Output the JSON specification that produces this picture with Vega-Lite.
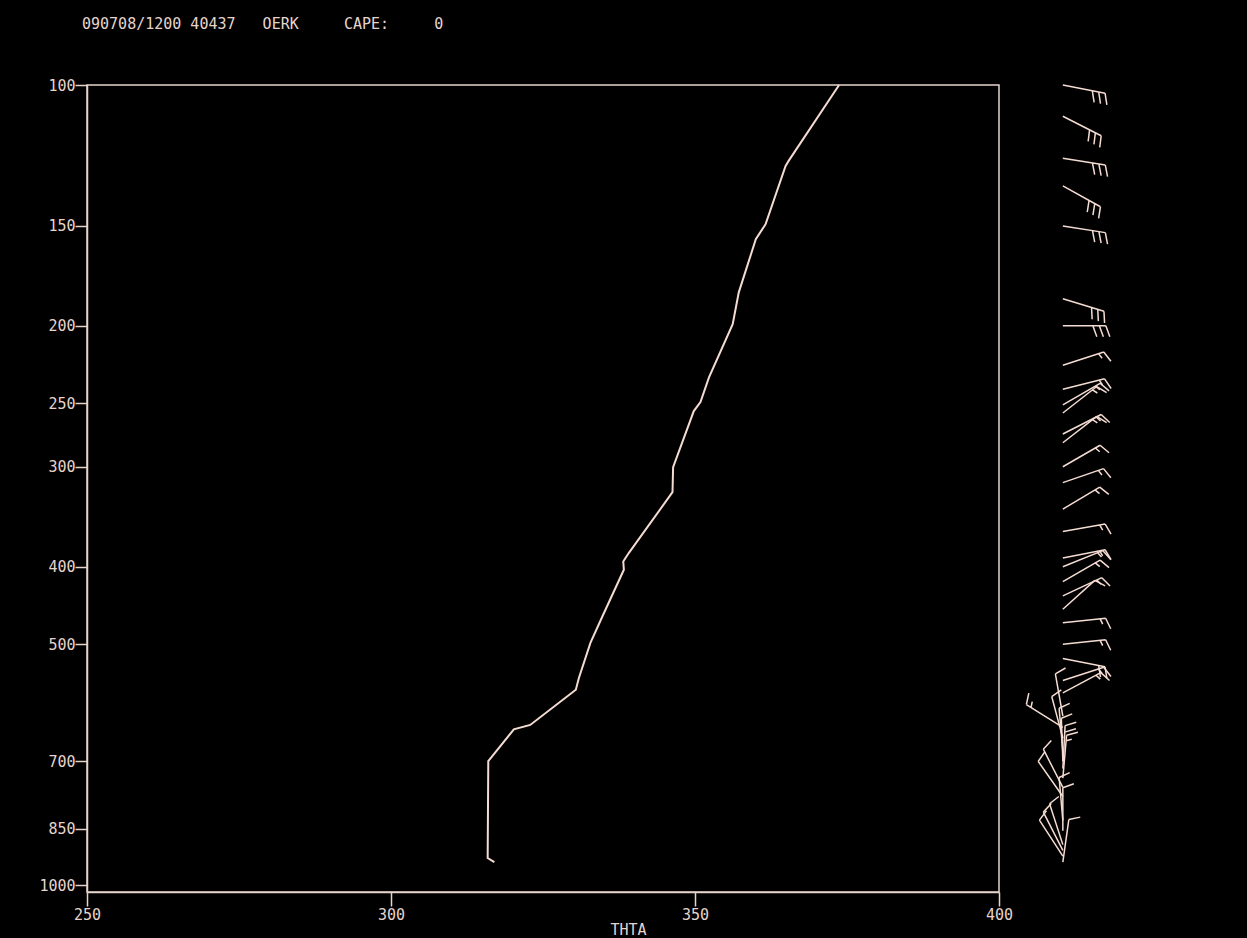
{
  "$schema": "https://vega.github.io/schema/vega-lite/v6.json",
  "autosize": "none",
  "width": 912,
  "height": 807,
  "padding": {"left": 87, "top": 85, "right": 248, "bottom": 46},
  "background": "#000000",
  "config": {
    "view": {"stroke": "#e6d4cc", "strokeWidth": 1.5, "fill": "#000000"},
    "axis": {
      "domainColor": "#e6d4cc", "domainWidth": 1.5,
      "tickColor": "#e6d4cc", "tickWidth": 1.5,
      "labelColor": "#e6d4cc", "labelFont": "DejaVu Sans Mono", "labelFontSize": 15,
      "titleColor": "#e6d4cc", "titleFont": "DejaVu Sans Mono", "titleFontSize": 15, "titleFontWeight": "normal",
      "grid": false, "labelFlush": false, "labelOverlap": false, "labelBound": false
    }
  },
  "title": {
    "text": "090708/1200 40437\u00a0\u00a0\u00a0OERK\u00a0\u00a0\u00a0\u00a0\u00a0CAPE:\u00a0\u00a0\u00a0\u00a0\u00a00",
    "anchor": "start", "frame": "group", "dx": -5, "offset": 34, "baseline": "alphabetic",
    "font": "DejaVu Sans Mono", "fontSize": 15, "fontWeight": "normal", "color": "#e6d4cc"
  },
  "layer": [
    {
      "data": {"values": [
        {"p": 100, "th": 373.7}, {"p": 124.4, "th": 365.4}, {"p": 126.2, "th": 364.9},
        {"p": 149.3, "th": 361.6}, {"p": 155.9, "th": 360.0}, {"p": 181.6, "th": 357.2},
        {"p": 199, "th": 356.2}, {"p": 232, "th": 352.3}, {"p": 249, "th": 350.9},
        {"p": 255.6, "th": 349.8}, {"p": 300.4, "th": 346.4}, {"p": 322.8, "th": 346.3},
        {"p": 384.6, "th": 339.1}, {"p": 394, "th": 338.2}, {"p": 403.5, "th": 338.3},
        {"p": 461, "th": 334.8}, {"p": 498, "th": 332.8}, {"p": 551, "th": 330.9},
        {"p": 570, "th": 330.4}, {"p": 630.7, "th": 322.9}, {"p": 638.6, "th": 320.2},
        {"p": 700, "th": 316.0}, {"p": 925, "th": 315.9}, {"p": 936, "th": 317.0}
      ]},
      "mark": {"type": "line", "color": "#f5dcd2", "strokeWidth": 2, "clip": false},
      "encoding": {
        "x": {"field": "th", "type": "quantitative",
          "scale": {"domain": [250, 400], "nice": false, "zero": false},
          "axis": {"values": [250, 300, 350, 400], "tickSize": 14, "labelPadding": 1, "format": "d",
            "title": "THTA", "titleX": 541, "titleY": 42, "titleAlign": "center", "titleBaseline": "alphabetic"}},
        "y": {"field": "p", "type": "quantitative",
          "scale": {"type": "log", "domain": [100, 1020], "reverse": true, "nice": false},
          "axis": {"values": [100, 150, 200, 250, 300, 400, 500, 700, 850, 1000], "format": "d", "tickSize": 12, "labelPadding": 0, "title": null}},
        "order": {"field": "p", "type": "quantitative"}
      }
    },
    {
      "data": {"values": [
        {"p": 100, "dir": 101, "spd": 30}, {"p": 109.4, "dir": 117, "spd": 30},
        {"p": 123.5, "dir": 99, "spd": 30}, {"p": 133.7, "dir": 119, "spd": 30},
        {"p": 150, "dir": 99, "spd": 30}, {"p": 185, "dir": 107, "spd": 30},
        {"p": 200, "dir": 90, "spd": 30},
        {"p": 224, "dir": 72, "spd": 15}, {"p": 240, "dir": 76, "spd": 15},
        {"p": 251, "dir": 60, "spd": 15}, {"p": 257, "dir": 52, "spd": 15},
        {"p": 273, "dir": 63, "spd": 15}, {"p": 280, "dir": 52, "spd": 15},
        {"p": 300, "dir": 60, "spd": 15}, {"p": 314, "dir": 71, "spd": 15},
        {"p": 339, "dir": 59, "spd": 15}, {"p": 361.5, "dir": 80, "spd": 15},
        {"p": 390, "dir": 79, "spd": 15}, {"p": 400, "dir": 68, "spd": 15},
        {"p": 417.5, "dir": 60, "spd": 15}, {"p": 435, "dir": 65, "spd": 15},
        {"p": 452, "dir": 48, "spd": 10}, {"p": 470, "dir": 84, "spd": 15},
        {"p": 500, "dir": 84, "spd": 15}, {"p": 521, "dir": 101, "spd": 20},
        {"p": 555, "dir": 72, "spd": 15}, {"p": 575, "dir": 62, "spd": 15},
        {"p": 615, "dir": 350, "spd": 10}, {"p": 635, "dir": 302, "spd": 15},
        {"p": 655, "dir": 345, "spd": 10}, {"p": 680, "dir": 355, "spd": 10},
        {"p": 700, "dir": 358, "spd": 10}, {"p": 715, "dir": 3, "spd": 20},
        {"p": 735, "dir": 5, "spd": 15}, {"p": 755, "dir": 333, "spd": 10},
        {"p": 775, "dir": 325, "spd": 10}, {"p": 830, "dir": 355, "spd": 10},
        {"p": 855, "dir": 0, "spd": 10}, {"p": 890, "dir": 342, "spd": 10},
        {"p": 905, "dir": 333, "spd": 10}, {"p": 920, "dir": 327, "spd": 10},
        {"p": 936, "dir": 8, "spd": 10}
      ]},
      "mark": {"type": "point", "filled": false, "color": "#f5dcd2", "strokeWidth": 1.5, "size": 4, "opacity": 1, "clip": false},
      "encoding": {
        "x": {"datum": 410.5, "type": "quantitative"},
        "y": {"field": "p", "type": "quantitative"},
        "angle": {"field": "dir", "type": "quantitative", "scale": {"domain": [0, 360], "range": [0, 360]}},
        "shape": {"field": "spd", "type": "ordinal", "legend": null,
          "scale": {"domain": [5, 10, 15, 20, 30], "range": [
            "M0,0L0,-43M0,-37.5L5.5,-39.5",
            "M0,0L0,-43M0,-43L11,-47",
            "M0,0L0,-43M0,-43L11,-47M0,-37.5L5.5,-39.5",
            "M0,0L0,-43M0,-43L11,-47M0,-36.5L11,-40.5",
            "M0,0L0,-43M0,-43L11,-47M0,-36.5L11,-40.5M0,-30L11,-34"
          ]}}
      }
    }
  ]
}
